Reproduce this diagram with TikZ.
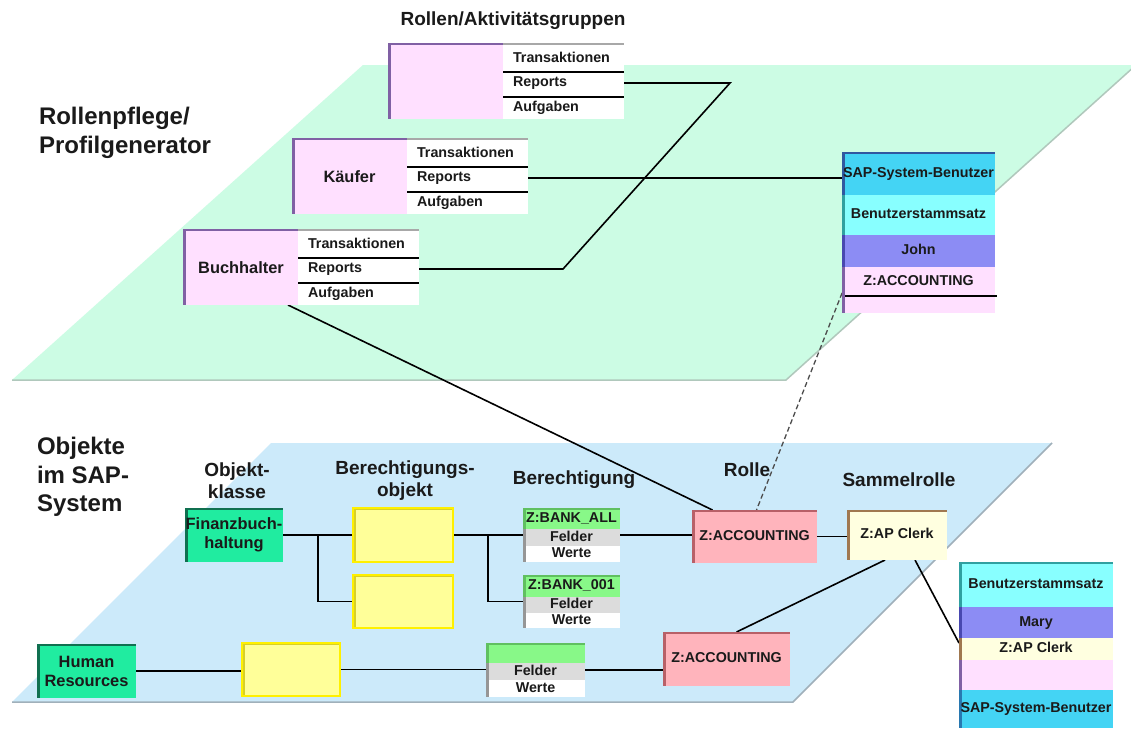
\documentclass[tikz,border=0pt]{standalone}
\usepackage{fontspec}
\setmainfont{Liberation Sans}
\usetikzlibrary{calc}
\pgfdeclarelayer{bg}
\pgfdeclarelayer{lines}
\pgfsetlayers{bg,lines,main}
\definecolor{planeG}{RGB}{204,252,228}
\definecolor{planeGe}{RGB}{176,200,188}
\definecolor{planeB}{RGB}{204,234,250}
\definecolor{planeBe}{RGB}{160,176,186}
\definecolor{rpink}{RGB}{255,224,255}
\definecolor{rpurple}{RGB}{128,96,164}
\definecolor{lgray}{RGB}{168,168,168}
\definecolor{sapcyan}{RGB}{68,212,244}
\definecolor{sapcyanD}{RGB}{40,120,176}
\definecolor{sapTop}{RGB}{48,88,160}
\definecolor{lcyan}{RGB}{136,255,255}
\definecolor{lcyanD}{RGB}{48,160,160}
\definecolor{jpurple}{RGB}{140,140,244}
\definecolor{jpurpleD}{RGB}{72,72,176}
\definecolor{fgreen}{RGB}{32,236,160}
\definecolor{fgreenD}{RGB}{16,112,80}
\definecolor{yfill}{RGB}{255,255,153}
\definecolor{yedge}{RGB}{255,240,0}
\definecolor{yside}{RGB}{216,208,40}
\definecolor{bgreen}{RGB}{136,248,136}
\definecolor{bgreenD}{RGB}{96,192,96}
\definecolor{bgray}{RGB}{220,220,220}
\definecolor{bgrayD}{RGB}{150,150,150}
\definecolor{rolfill}{RGB}{255,180,188}
\definecolor{roledge}{RGB}{184,96,104}
\definecolor{apfill}{RGB}{255,255,224}
\definecolor{apedge}{RGB}{160,120,80}
\definecolor{txt}{RGB}{26,26,26}
\begin{document}
\begin{tikzpicture}[x=1pt,y=-1pt,
  box/.style={inner sep=0pt,outer sep=0pt},
  lbox/.style 2 args={box,fill=#1,path picture={\fill[#2] (path picture bounding box.north west) rectangle ([xshift=3pt]path picture bounding box.south west);}},
  tbox/.style 2 args={box,fill=#1,path picture={\fill[#2] (path picture bounding box.north west) rectangle ([xshift=3pt]path picture bounding box.south west); \fill[#2] (path picture bounding box.north west) rectangle ([yshift=-2pt]path picture bounding box.north east);}},
  listbox/.style={box,fill=white,path picture={\fill[lgray] (path picture bounding box.north west) rectangle ([yshift=-2pt]path picture bounding box.north east);}},
  ybox/.style={tbox={yfill}{yside},draw=yedge,line width=1.5pt},
  txs/.style={box,font=\fontsize{14.3}{16}\selectfont\bfseries,text=txt,text height=10.3pt,text depth=2.8pt},
  txm/.style={box,font=\fontsize{16.4}{19}\selectfont\bfseries,text=txt,align=center},
  txh/.style={box,font=\fontsize{19}{22}\selectfont\bfseries,text=txt,align=center},
  txb/.style={box,font=\fontsize{24}{28.5}\selectfont\bfseries,text=txt,align=left},
  conn/.style={draw=black,line width=1.6pt},
  sepline/.style={draw=black,line width=1.5pt},
]
\useasboundingbox (0,0) rectangle (1131,729);

% planes
\begin{pgfonlayer}{bg}
\fill[white] (0,0) rectangle (1131,729);
\clip (0,0) rectangle (1131,729);
\fill[planeG] (12,380) -- (363,65) -- (1136,65) -- (786,380) -- cycle;
\draw[planeGe,line width=1.5pt] (12,380) -- (786,380) -- (1136,65);
\fill[planeB] (12,702) -- (271,443) -- (1052,443) -- (793,702) -- cycle;
\draw[planeBe,line width=1.5pt] (12,702) -- (793,702) -- (1052,443);
\end{pgfonlayer}

% big labels
\node[txb,anchor=north west] (lblTop) at (39,107.5) {Rollenpflege/\\Profilgenerator};
\node[txb,anchor=north west] (lblBot) at (37,437.5) {Objekte\\im SAP-\\System};

% heading labels
\node[txh] (hRollen) at (513,21) {Rollen/Aktivitätsgruppen};
\node[txh] (hOK) at (237,481) {Objekt-\\klasse};
\node[txh] (hBO) at (405,481) {Berechtigungs-\\objekt};
\node[txh] (hBer) at (574,480) {Berechtigung};
\node[txh] (hRolle) at (747,470) {Rolle};
\node[txh] (hSam) at (899,480) {Sammelrolle};

% role group 1
\node[tbox={rpink}{rpurple},minimum width=115pt,minimum height=76pt] (g1p) at (445.5,81) {};
\node[listbox,minimum width=121pt,minimum height=76pt] (g1l) at (563.5,81) {};
\node[txs,anchor=west] (g1t) at (513,59) {Transaktionen};
\node[txs,anchor=west] (g1r) at (513,83) {Reports};
\node[txs,anchor=west] (g1a) at (513,108) {Aufgaben};
\draw[sepline] ($(g1l.north west)+(0,29)$) -- ($(g1l.north east)+(0,29)$);
\draw[sepline] ($(g1l.north west)+(0,54)$) -- ($(g1l.north east)+(0,54)$);

% role group 2
\node[tbox={rpink}{rpurple},minimum width=115pt,minimum height=76pt] (g2p) at (349.5,176) {};
\node[txm] (g2n) at (349.5,177) {Käufer};
\node[listbox,minimum width=121pt,minimum height=76pt] (g2l) at (467.5,176) {};
\node[txs,anchor=west] (g2t) at (417,154) {Transaktionen};
\node[txs,anchor=west] (g2r) at (417,178) {Reports};
\node[txs,anchor=west] (g2a) at (417,203) {Aufgaben};
\draw[sepline] ($(g2l.north west)+(0,29)$) -- ($(g2l.north east)+(0,29)$);
\draw[sepline] ($(g2l.north west)+(0,54)$) -- ($(g2l.north east)+(0,54)$);

% role group 3
\node[tbox={rpink}{rpurple},minimum width=115pt,minimum height=76pt] (g3p) at (240.5,267) {};
\node[txm] (g3n) at (241,268) {Buchhalter};
\node[listbox,minimum width=121pt,minimum height=76pt] (g3l) at (358.5,267) {};
\node[txs,anchor=west] (g3t) at (308,245) {Transaktionen};
\node[txs,anchor=west] (g3r) at (308,269) {Reports};
\node[txs,anchor=west] (g3a) at (308,294) {Aufgaben};
\draw[sepline] ($(g3l.north west)+(0,29)$) -- ($(g3l.north east)+(0,29)$);
\draw[sepline] ($(g3l.north west)+(0,54)$) -- ($(g3l.north east)+(0,54)$);

% SAP user box (John)
\node[tbox={sapcyan}{sapTop},minimum width=153pt,minimum height=43pt,txs] (sapA) at (918.5,173.5) {SAP-System-Benutzer};
\node[lbox={lcyan}{lcyanD},minimum width=153pt,minimum height=40pt,txs] (sapB) at (918.5,215) {Benutzerstammsatz};
\node[lbox={jpurple}{jpurpleD},minimum width=153pt,minimum height=32pt,txs] (sapC) at (918.5,251) {John};
\node[lbox={rpink}{rpurple},minimum width=153pt,minimum height=29pt,txs] (sapD) at (918.5,281.5) {Z:ACCOUNTING};
\node[lbox={rpink}{rpurple},minimum width=153pt,minimum height=17pt] (sapE) at (918.5,304.5) {};
\draw[sepline] ([xshift=3pt]sapD.south west) -- ([xshift=2pt]sapD.south east);

% lower plane objects
\node[tbox={fgreen}{fgreenD},minimum width=98pt,minimum height=54pt,txm] (fin) at (234,535) {Finanzbuch-\\haltung};
\node[ybox,minimum width=100pt,minimum height=54pt] (y1) at (403,535) {};
\node[ybox,minimum width=100pt,minimum height=53pt] (y2) at (403,601.5) {};

\node[box,minimum width=97pt,minimum height=54pt] (b1) at (571.5,535) {};
\node[tbox={bgreen}{bgreenD},minimum width=97pt,minimum height=21pt,txs] (b1h) at (571.5,518.5) {Z:BANK\_ALL};
\node[lbox={bgray}{bgrayD},minimum width=97pt,minimum height=17pt,txs] (b1f) at (571.5,537.5) {Felder};
\node[lbox={white}{bgrayD},minimum width=97pt,minimum height=16pt,txs] (b1w) at (571.5,554) {Werte};

\node[box,minimum width=97pt,minimum height=53pt] (b2) at (571.5,601.5) {};
\node[tbox={bgreen}{bgreenD},minimum width=97pt,minimum height=22pt,txs] (b2h) at (571.5,586) {Z:BANK\_001};
\node[lbox={bgray}{bgrayD},minimum width=97pt,minimum height=16pt,txs] (b2f) at (571.5,605) {Felder};
\node[lbox={white}{bgrayD},minimum width=97pt,minimum height=15pt,txs] (b2w) at (571.5,620.5) {Werte};

\node[tbox={rolfill}{roledge},minimum width=125pt,minimum height=53pt,txs] (rolle) at (754.5,536.5) {Z:ACCOUNTING};
\node[tbox={apfill}{apedge},minimum width=100pt,minimum height=50pt,txs] (apc) at (897,535) {Z:AP Clerk};

\node[tbox={fgreen}{fgreenD},minimum width=99pt,minimum height=54pt,txm] (hr) at (86.5,671) {Human\\Resources};
\node[ybox,minimum width=98pt,minimum height=53pt] (y3) at (291,669.5) {};
\node[box,minimum width=99pt,minimum height=54pt] (b3) at (535.5,670) {};
\node[tbox={bgreen}{bgreenD},minimum width=99pt,minimum height=20pt] (b3h) at (535.5,653) {};
\node[lbox={bgray}{bgrayD},minimum width=99pt,minimum height=17pt,txs] (b3f) at (535.5,671.5) {Felder};
\node[lbox={white}{bgrayD},minimum width=99pt,minimum height=17pt,txs] (b3w) at (535.5,688.5) {Werte};
\node[tbox={rolfill}{roledge},minimum width=127pt,minimum height=54pt,txs] (rolle2) at (726.5,659) {Z:ACCOUNTING};

% Mary box
\node[tbox={lcyan}{lcyanD},minimum width=154pt,minimum height=45pt,txs] (mB) at (1036,584.5) {Benutzerstammsatz};
\node[lbox={jpurple}{jpurpleD},minimum width=154pt,minimum height=31pt,txs] (mM) at (1036,622.5) {Mary};
\node[lbox={apfill}{apedge},minimum width=154pt,minimum height=22pt,txs] (mZ) at (1036,649) {Z:AP Clerk};
\node[lbox={rpink}{rpurple},minimum width=154pt,minimum height=30pt] (mP) at (1036,675) {};
\node[lbox={sapcyan}{sapcyanD},minimum width=154pt,minimum height=38pt,txs] (mS) at (1036,709) {SAP-System-Benutzer};

% connectors
\begin{pgfonlayer}{lines}
\coordinate (kA) at (730,83);
\coordinate (kB) at (563,269);
\draw[conn] (g1l.east |- g1r) -- (kA) -- (kB) -- (g3l.east |- g3r);
\draw[conn] (g2l.east |- g2r) -- (g2r -| sapA.west);
\draw[conn] ([xshift=-10pt]g3p.south east) -- ([xshift=-42pt]rolle.north);
\draw[line width=1.3pt,draw=black!70,dash pattern=on 5pt off 3pt] ([xshift=3pt,yshift=-4pt]sapD.west) -- ([xshift=2pt]rolle.north);
\draw[conn] (fin.east) -- (y1.west);
\draw[conn] ($(fin.east)!0.5!(y1.west)$) |- (y2.west);
\draw[conn] (y1.east) -- (b1.west);
\draw[conn] ($(y1.east)!0.5!(b1.west)$) |- (b2.west);
\draw[conn] (b1.east) -- (b1.east -| rolle.west);
\draw[conn] (rolle.east) -- (rolle.east -| apc.west);
\draw[conn] (hr.east) -- (hr.east -| y3.west);
\draw[conn] (y3.east) -- (y3.east -| b3.west);
\draw[conn] (b3.east) -- (b3.east -| rolle2.west);
\draw[conn] ([xshift=10pt]rolle2.north) -- ([xshift=-12pt]apc.south);
\draw[conn] ([xshift=18pt]apc.south) -- ([yshift=6pt]mZ.west);
\end{pgfonlayer}
\end{tikzpicture}
\end{document}
